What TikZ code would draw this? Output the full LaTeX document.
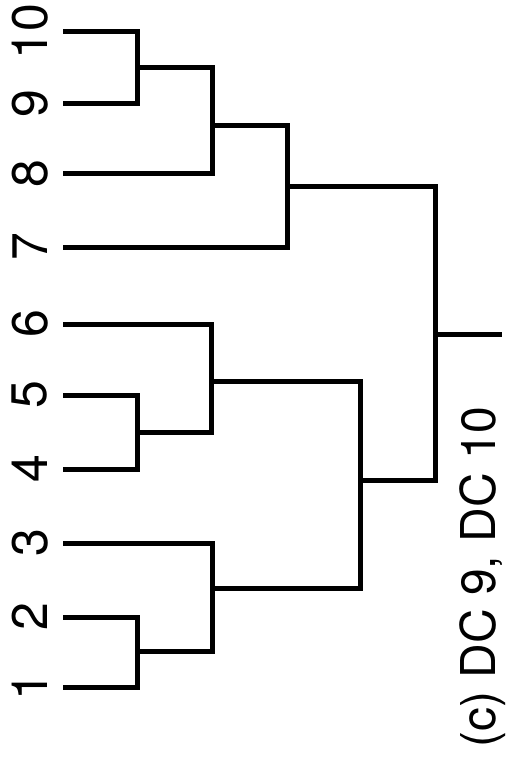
\documentclass[tikz,border=0pt]{standalone}
\usepackage{fontspec}
\setmainfont{TeX Gyre Heros}
\begin{document}
\begin{tikzpicture}[x=1pt, y=-1pt, line width=5pt]
\tikzstyle{lbl}=[inner sep=0pt, rotate=90, font=\fontsize{50}{50}\selectfont]
\tikzstyle{captext}=[inner sep=0pt, rotate=90, font=\fontsize{48}{48}\selectfont]
\useasboundingbox (0,0) rectangle (506,762);
% leaves and their numbers
\foreach \i/\y in {1/687, 2/617, 3/543, 4/469, 5/395, 6/324, 7/247, 8/174, 9/104, 10/32}{
  \node[lbl] (n\i) at (30,\y) {\i};
  \coordinate (l\i) at (63,\y);
}
% merge points
\coordinate (m910) at (137,68);
\coordinate (m8) at (212,126);
\coordinate (m7) at (287,186);
\coordinate (m45) at (137,432);
\coordinate (m6) at (211,381);
\coordinate (m12) at (137,651);
\coordinate (m3) at (212,588);
\coordinate (m16) at (360,480);
\coordinate (root) at (435,334);
\coordinate (stub) at (502,334);
\draw (l10) -| (m910) |- (l9);
\draw (l8) -| (m8) |- (m910);
\draw (l7) -| (m7) |- (m8);
\draw (l5) -| (m45) |- (l4);
\draw (l6) -| (m6) |- (m45);
\draw (l2) -| (m12) |- (l1);
\draw (l3) -| (m3) |- (m12);
\draw (m6) -| (m16) |- (m3);
\draw (m7) -| (root) |- (m16);
\draw (root) -- (stub);
% caption
\node[captext] (title) at (483,577) {(c) DC 9, DC 10};
\end{tikzpicture}
\end{document}
